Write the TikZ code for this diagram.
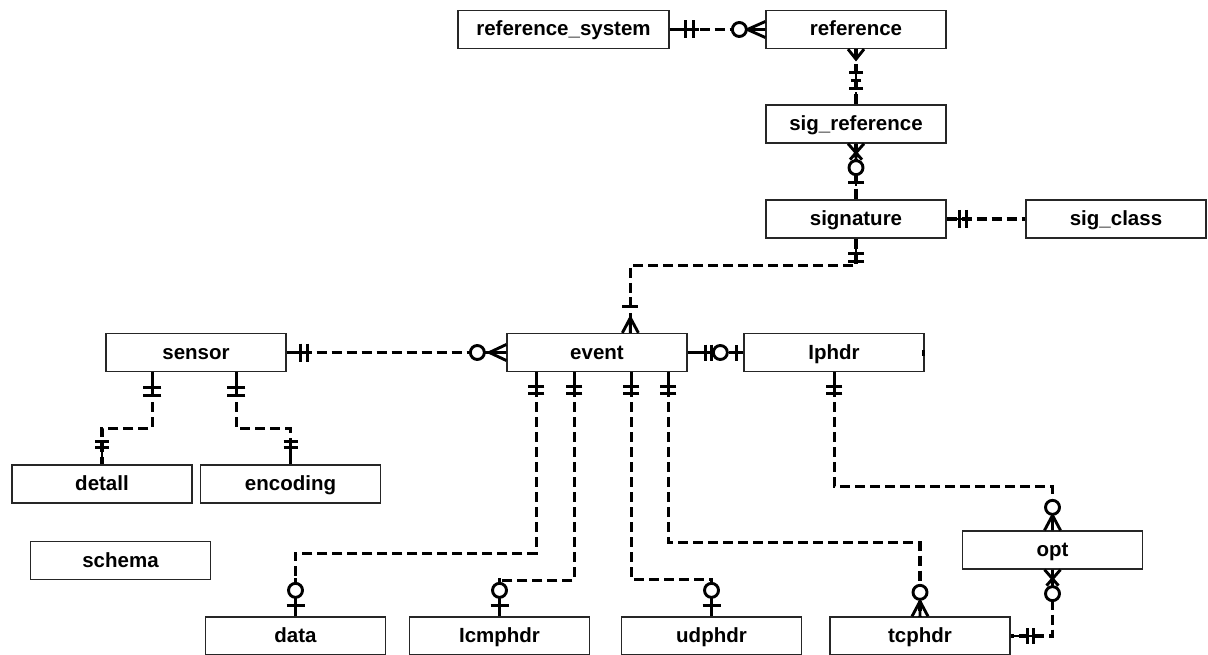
\documentclass[tikz,border=0pt]{standalone}
\usepackage{fontspec}
\setmainfont{Liberation Sans}
\usetikzlibrary{calc}

% end marks of a relationship, drawn in a local frame:
% origin on the entity border, the line leaving along +x
\newcommand\mkBar[2][8]{\draw[sym] (#2,-#1) -- (#2,#1);}
\newcommand\mkCrow[1]{\draw[sym] (0,-8) -- (#1,0) -- (0,8) (0,0) -- (#1,0);}
\newcommand\mkCross[1]{\draw[sym] (0,-8) -- (#1,6) (0,8) -- (#1,-6) (0,0) -- (#1,0);}
\newcommand\mkRing[1]{\draw[sym,fill=white] (#1,0) circle (7);}
\newcommand\mkSeg[2]{\draw[sym] (#1,0) -- (#2,0);}
\newcommand\cardmark[3]{\begin{scope}[shift={(#1)},rotate=#2]#3\end{scope}}

\begin{document}
\begin{tikzpicture}[x=1pt,y=-1pt,
  entity/.style={draw=black!85, line width=1.3pt, fill=white,
    minimum width=180pt, minimum height=38pt, inner sep=0pt,
    font=\fontsize{20.5}{21}\selectfont\bfseries,
    text height=15.5pt, text depth=2.5pt},
  rel/.style={line width=3.2pt, dash pattern=on 10pt off 5pt},
  sym/.style={line width=2.9pt}]
\useasboundingbox[fill=white] (0,0) rectangle (1208,655);

% entities
\node[entity, minimum width=211pt] (refsys) at (563.5,29.5) {reference\_system};
\node[entity] (ref)       at (856,29.5)   {reference};
\node[entity] (sigref)    at (856,124)    {sig\_reference};
\node[entity] (signature) at (856,219)    {signature};
\node[entity] (sigclass)  at (1116,219)   {sig\_class};
\node[entity] (sensor)    at (196,352.5)  {sensor};
\node[entity] (event)     at (597,352.5)  {event};
\node[entity] (lphdr)     at (834,352.5)  {Iphdr};
\node[entity] (detail)    at (102,484)    {detall};
\node[entity] (encoding)  at (290.5,484)  {encoding};
\node[entity] (schema)    at (120.5,560.5){schema};
\node[entity] (opt)       at (1052.5,550) {opt};
\node[entity] (data)      at (295.5,636)  {data};
\node[entity] (icmphdr)   at (499.5,636)  {Icmphdr};
\node[entity] (udphdr)    at (711.5,636)  {udphdr};
\node[entity] (tcphdr)    at (920,636)    {tcphdr};
\fill ($(lphdr.east)+(-3,-3)$) rectangle ++(3,6);

% attachment points along entity borders
\coordinate (evN)  at ($(event.north west)+(124,0)$);
\coordinate (evS1) at ($(event.south west)+(30,0)$);
\coordinate (evS2) at ($(event.south west)+(68,0)$);
\coordinate (evS3) at ($(event.south west)+(125,0)$);
\coordinate (evS4) at ($(event.south west)+(162,0)$);
\coordinate (snS1) at ($(sensor.south west)+(47,0)$);
\coordinate (snS2) at ($(sensor.south west)+(131,0)$);
\coordinate (lpS)  at ($(lphdr.south west)+(91,0)$);

% relationship lines
\draw[rel] (refsys.east) -- (ref.west);
\draw[rel] (ref.south) -- (sigref.north);
\draw[rel] (sigref.south) -- (signature.north);
\draw[rel] (signature.east) -- (sigclass.west);
\draw[rel] (signature.south) -- ++(0,27) -| (evN);
\draw[rel] (sensor.east) -- (event.west);
\draw[rel] (event.east) -- (lphdr.west);
\draw[rel] (snS1) -- ++(0,56) -| (detail.north);
\draw[rel] (snS2) -- ++(0,56) -| (encoding.north);
\draw[rel] (evS1) -- ++(0,181) -| (data.north);
\draw[rel] (evS2) -- ++(0,208) -| (icmphdr.north);
\draw[rel] (evS3) -- ++(0,207) -| (udphdr.north);
\draw[rel] (evS4) -- ++(0,170) -| (tcphdr.north);
\draw[rel] (lpS) -- ++(0,114) -| (opt.north);
\draw[rel] (opt.south) |- (tcphdr.east);

% cardinality marks
\cardmark{refsys.east}{0}{\mkSeg{0}{29}\mkBar[9]{16}\mkBar[9]{24}}
\cardmark{ref.west}{180}{\mkCrow{18}\mkSeg{18}{26}\mkRing{26}}
\cardmark{ref.south}{-90}{\mkCrow{10}\mkSeg{23}{39}\mkBar[7]{23}\mkBar[5]{31}\mkBar[7]{39}}
\cardmark{sigref.north}{90}{\mkSeg{0}{12}}
\cardmark{sigref.south}{-90}{\mkCross{16}\mkRing{24}\mkSeg{31}{42}\mkBar{39}}
\cardmark{signature.north}{90}{\mkSeg{0}{10}}
\cardmark{signature.east}{0}{\mkSeg{0}{24}\mkBar[9]{13}\mkBar[9]{20}}
\cardmark{signature.south}{-90}{\mkSeg{0}{25}\mkBar{15}\mkBar{23}}
\cardmark{evN}{90}{\mkCrow{15}\mkSeg{26}{36}\mkBar{26}}
\cardmark{sensor.east}{0}{\mkSeg{0}{24}\mkBar[9]{14}\mkBar[9]{21}}
\cardmark{event.west}{180}{\mkCrow{17}\mkRing{29}}
\cardmark{event.east}{0}{\mkSeg{0}{24}\mkBar{18}\mkBar{24}}
\cardmark{lphdr.west}{180}{\mkSeg{0}{14}\mkBar{7}\mkRing{23}}
\cardmark{snS1}{-90}{\mkSeg{0}{24}\mkBar[9]{15}\mkBar[9]{23}}
\cardmark{snS2}{-90}{\mkSeg{0}{24}\mkBar[9]{15}\mkBar[9]{23}}
\cardmark{detail.north}{90}{\mkSeg{0}{24}\mkBar[7]{17}\mkBar[7]{23}}
\cardmark{encoding.north}{90}{\mkSeg{0}{24}\mkBar[7]{17}\mkBar[7]{23}}
\cardmark{evS1}{-90}{\mkSeg{0}{22}\mkBar{14}\mkBar{21}}
\cardmark{evS2}{-90}{\mkSeg{0}{22}\mkBar{14}\mkBar{21}}
\cardmark{evS3}{-90}{\mkSeg{0}{22}\mkBar{14}\mkBar{21}}
\cardmark{evS4}{-90}{\mkSeg{0}{22}\mkBar{14}\mkBar{21}}
\cardmark{lpS}{-90}{\mkSeg{0}{22}\mkBar{14}\mkBar{21}}
\cardmark{data.north}{90}{\mkSeg{0}{19}\mkBar[9]{11}\mkRing{26}\mkSeg{33}{38}}
\cardmark{icmphdr.north}{90}{\mkSeg{0}{19}\mkBar[9]{11}\mkRing{26}\mkSeg{33}{38}}
\cardmark{udphdr.north}{90}{\mkSeg{0}{19}\mkBar[9]{11}\mkRing{26}\mkSeg{33}{38}}
\cardmark{tcphdr.north}{90}{\mkCrow{15}\mkRing{24}}
\cardmark{opt.north}{90}{\mkCrow{15}\mkRing{23}}
\cardmark{opt.south}{-90}{\mkCross{16}\mkRing{24}}
\cardmark{tcphdr.east}{0}{\mkSeg{0}{24}\mkBar{17}\mkBar{23}}
\end{tikzpicture}
\end{document}
